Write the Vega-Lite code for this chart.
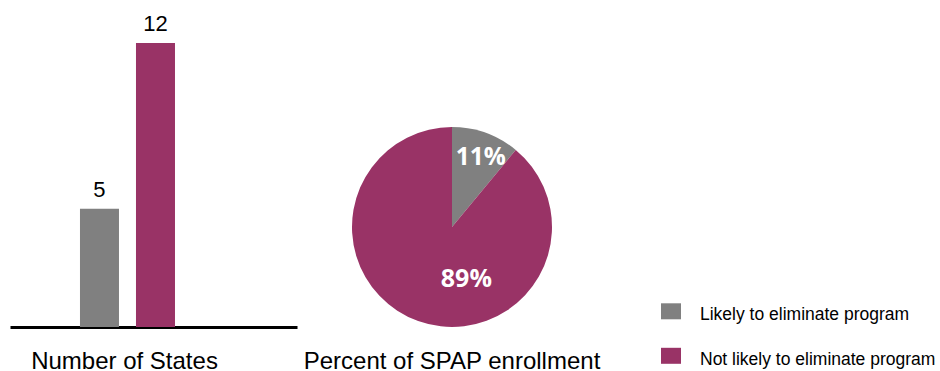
{
  "$schema": "https://vega.github.io/schema/vega-lite/v6.json",
  "background": "white",
  "padding": {"left": 10, "top": 0, "right": 0, "bottom": 0},
  "spacing": 5,
  "data": {"values": [
    {"category": "Likely to eliminate program", "states": 5, "pct": 11, "label": "11%"},
    {"category": "Not likely to eliminate program", "states": 12, "pct": 89, "label": "89%"}
  ]},
  "hconcat": [
    {
      "width": 287,
      "height": 327,
      "encoding": {
        "x": {
          "field": "category", "type": "nominal",
          "scale": {"domain": ["Likely to eliminate program", "Not likely to eliminate program", "_a", "_b"], "paddingInner": 0.3036, "paddingOuter": 0.714, "align": 0.875},
          "axis": {"labels": false, "ticks": false, "domainColor": "black", "domainWidth": 3, "title": "Number of States", "titleFont": "Liberation Sans", "titleFontSize": 24, "titleFontWeight": "normal", "titleColor": "black", "titlePadding": 22, "titleX": 114, "titleAlign": "center"}
        },
        "y": {"field": "states", "type": "quantitative", "scale": {"domain": [0, 13.82], "nice": false}, "axis": null}
      },
      "layer": [
        {
          "mark": {"type": "bar"},
          "encoding": {
            "color": {"field": "category", "type": "nominal",
              "scale": {"domain": ["Likely to eliminate program", "Not likely to eliminate program"], "range": ["#808080", "#993366"]}}
          }
        },
        {
          "mark": {"type": "text", "font": "Liberation Sans", "fontSize": 22, "color": "black", "baseline": "alphabetic", "dy": -12},
          "encoding": {"text": {"field": "states", "type": "quantitative"}}
        }
      ]
    },
    {
      "width": 300,
      "height": 327,
      "title": {"text": "Percent of SPAP enrollment", "orient": "bottom", "anchor": "middle", "font": "Liberation Sans", "fontSize": 24, "fontWeight": "normal", "color": "black", "offset": 23},
      "encoding": {
        "theta": {"field": "pct", "type": "quantitative", "stack": true},
        "order": {"field": "pct", "type": "quantitative", "sort": "ascending"}
      },
      "layer": [
        {
          "mark": {"type": "arc", "radius": 100, "y": {"expr": "height - 100"}},
          "encoding": {
            "color": {"field": "category", "type": "nominal",
              "scale": {"domain": ["Likely to eliminate program", "Not likely to eliminate program"], "range": ["#808080", "#993366"]}}
          }
        },
        {
          "mark": {"type": "text", "radius": 73, "y": {"expr": "height - 100"}, "dx": 4, "font": "Open Sans", "fontWeight": "bold", "fontSize": 24.5, "color": "white", "align": "center", "baseline": "middle"},
          "encoding": {"text": {"condition": {"test": "datum.category === 'Likely to eliminate program'", "field": "label"}, "value": ""}}
        },
        {
          "mark": {"type": "text", "radius": 55, "y": {"expr": "height - 100"}, "dx": 33, "font": "Open Sans", "fontWeight": "bold", "fontSize": 25, "color": "white", "align": "center", "baseline": "middle"},
          "encoding": {"text": {"condition": {"test": "datum.category === 'Not likely to eliminate program'", "field": "label"}, "value": ""}}
        }
      ]
    }
  ],
  "resolve": {"scale": {"color": "shared"}},
  "config": {
    "view": {"stroke": null},
    "legend": {"title": null, "orient": "none", "legendX": 651, "legendY": 305.3, "padding": 0,
      "symbolType": "M-1,-1.2H1V0.4H-1Z", "symbolSize": 400, "symbolStrokeWidth": 0, "symbolOpacity": 1,
      "labelFont": "Liberation Sans", "labelFontSize": 17.5, "labelColor": "black", "labelOffset": 19, "labelLimit": 0, "rowPadding": 23.5}
  }
}
